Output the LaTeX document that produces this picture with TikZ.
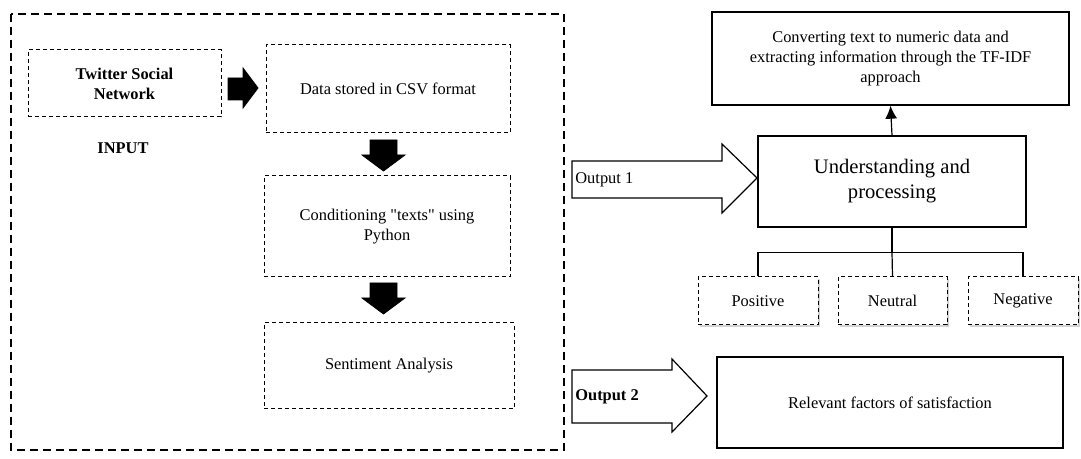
\documentclass[tikz,border=0pt]{standalone}
\usepackage{fontspec}
\setmainfont{Liberation Serif}
\usepackage{tikz}
\usetikzlibrary{positioning}
\usetikzlibrary{shadows}
\usetikzlibrary{arrows.meta}

\tikzset{
  inbox/.style={draw, line width=0.5pt, dash pattern=on 2pt off 1.5pt, align=center, inner sep=2pt},
  solidbox/.style={draw, line width=0.7pt, align=center, inner sep=2pt},
  classbox/.style={inbox, fill=white, drop shadow={shadow xshift=0.8pt, shadow yshift=-0.8pt, opacity=0.35}},
  blockarrow/.style={fill=black, draw=black, line width=0.4pt, line join=miter},
  hollowarrow/.style={draw=black, fill=white, line width=0.6pt, line join=miter}
}

\begin{document}
\begin{tikzpicture}[x=0.5pt, y=-0.5pt, font=\fontsize{8.2}{10}\selectfont]
  \useasboundingbox (0,0) rectangle (1081,459);

  % input side
  \draw[line width=1.2pt, dash pattern=on 4pt off 2.5pt] (11,14) rectangle (564,450);

  \node[inbox, minimum width=96.5pt, minimum height=33.5pt, font=\fontsize{8.2}{10}\selectfont\bfseries] (twitter) at (124.5,83.5) {Twitter Social\\Network};
  \node[font=\fontsize{8.2}{10}\selectfont\bfseries] (input) at (123,148) {INPUT};

  \node[inbox, minimum width=122pt, minimum height=44pt] (csv) at (388,89) {Data stored in CSV format};
  \node[inbox, minimum width=123pt, minimum height=50.5pt] (cond) at (387,226.5) {Conditioning \textquotedbl texts\textquotedbl{} using\\Python};
  \node[inbox, minimum width=125pt, minimum height=43pt] (senti) at (389,366) {Sentiment Analysis};

  \draw[blockarrow] (228,78) -- (243,78) -- (243,68) -- (258,88) -- (243,108) -- (243,100) -- (228,100) -- cycle;
  \draw[blockarrow] (370,140) -- (397,140) -- (397,155) -- (405,155) -- (383.5,171) -- (362,155) -- (370,155) -- cycle;
  \draw[blockarrow] (370,283) -- (397,283) -- (397,298) -- (405,298) -- (383.5,314) -- (362,298) -- (370,298) -- cycle;

  % output side
  \node[solidbox, minimum width=178.5pt, minimum height=46.5pt] (conv) at (890.5,58.5) {Converting text to numeric data and\\extracting information through the TF-IDF\\approach};
  \node[solidbox, minimum width=134pt, minimum height=45.5pt, font=\fontsize{10.3}{12.5}\selectfont] (und) at (892,181.5) {Understanding and\\processing};
  \node[solidbox, minimum width=173pt, minimum height=45.5pt] (factors) at (890,402.5) {Relevant factors of satisfaction};

  \node[classbox, minimum width=60pt, minimum height=24pt] (pos) at (758,301) {Positive};
  \node[classbox, minimum width=54.5pt, minimum height=24pt] (neu) at (892.5,301) {Neutral};
  \node[classbox, minimum width=55pt, minimum height=24pt] (neg) at (1023,301) {Negative};

  \draw[-{Latex[length=6.5pt, width=6pt]}, line width=0.6pt] (und.north) -- (conv.south);
  \draw[line width=0.6pt] (und.south) -- ++(0,25) coordinate (split);
  \draw[line width=0.6pt] (pos.north) |- (split) -| (neg.north);
  \draw[line width=0.6pt] (neu.north) -- (split);

  \draw[hollowarrow] (572,161) -- (722,161) -- (722,144) -- (757,178) -- (722,213) -- (722,198) -- (572,198) -- cycle;
  \node[anchor=west, inner sep=0pt] (out1) at (575,180) {Output 1};
  \draw[hollowarrow] (572,370) -- (672,370) -- (672,359) -- (707,396) -- (672,432) -- (672,423) -- (572,423) -- cycle;
  \node[anchor=west, inner sep=0pt, font=\fontsize{8.2}{10}\selectfont\bfseries] (out2) at (575,397) {Output 2};
\end{tikzpicture}
\end{document}
